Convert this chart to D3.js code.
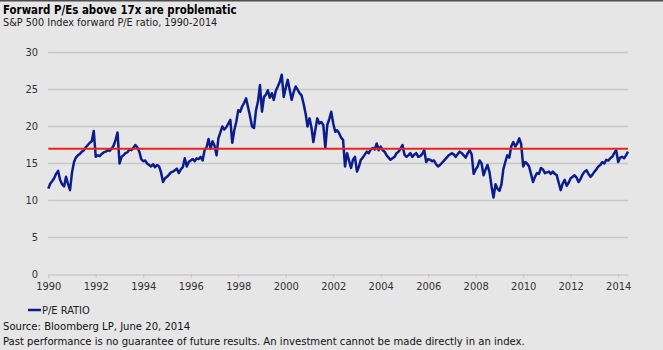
<!DOCTYPE html>
<html>
<head>
<meta charset="utf-8">
<script src="https://cdn.jsdelivr.net/npm/d3@7"></script>
<style>
  body { margin: 0; background: #e6e6e6; }
  svg { display: block; font-family: "DejaVu Sans Condensed", "DejaVu Sans", sans-serif; }
</style>
</head>
<body>
<div id="chart"></div>
<script>
// monthly forward P/E of the S&P 500, Jan 1990 - Jun 2014
const startYear = 1990;
const peRatio = [
  11.6, 12.3, 12.6, 13.0, 13.6, 14.0, 12.8, 12.2, 11.9, 13.2, 12.2, 11.4, // 1990
  13.8, 15.2, 15.8, 16.1, 16.3, 16.6, 16.8, 17.2, 17.5, 17.8, 18.0, 19.4, // 1991
  15.9, 16.1, 16.0, 16.3, 16.5, 16.6, 16.8, 16.7, 17.0, 17.4, 18.2, 19.2, // 1992
  15.0, 15.9, 16.1, 16.4, 16.5, 16.9, 16.8, 17.1, 17.5, 17.2, 16.6, 15.6, // 1993
  15.3, 15.4, 15.0, 14.8, 14.6, 14.9, 14.5, 14.8, 14.6, 13.8, 12.5, 13.0, // 1994
  13.2, 13.5, 13.8, 13.9, 14.1, 14.3, 13.7, 14.2, 14.5, 15.7, 14.6, 15.2, // 1995
  15.4, 15.6, 15.3, 15.7, 15.6, 15.9, 15.4, 16.8, 17.2, 18.3, 17.0, 18.0, // 1996
  17.4, 16.1, 18.4, 19.2, 20.0, 19.6, 19.9, 20.4, 20.9, 17.8, 19.5, 20.6, // 1997
  22.2, 22.0, 22.7, 23.2, 23.8, 22.6, 21.4, 20.0, 19.8, 22.2, 23.4, 25.6, // 1998
  22.0, 24.0, 24.3, 24.9, 23.9, 24.5, 23.6, 24.8, 25.4, 26.0, 27.0, 24.0, // 1999
  25.2, 26.3, 25.0, 23.6, 24.6, 25.4, 25.0, 24.5, 24.2, 23.1, 21.8, 20.0, // 2000
  21.1, 19.8, 17.9, 19.6, 21.1, 20.4, 20.6, 20.2, 17.1, 20.2, 21.0, 22.0, // 2001
  20.4, 19.3, 19.5, 19.1, 18.5, 18.2, 14.6, 16.4, 15.4, 14.4, 15.5, 15.9, // 2002
  13.9, 14.6, 15.5, 15.8, 16.2, 16.6, 16.4, 16.9, 17.1, 16.9, 17.7, 16.8, // 2003
  17.3, 16.8, 16.6, 16.1, 15.8, 15.5, 15.7, 15.9, 16.4, 16.6, 17.0, 17.5, // 2004
  16.2, 15.9, 16.1, 16.4, 15.9, 16.2, 16.4, 15.9, 16.0, 16.3, 16.8, 15.2, // 2005
  15.6, 15.5, 15.3, 15.4, 14.9, 14.6, 14.8, 15.1, 15.4, 15.7, 16.0, 16.2, // 2006
  16.4, 16.2, 15.9, 16.3, 16.6, 16.4, 16.1, 15.8, 16.4, 16.8, 16.2, 13.6, // 2007
  14.2, 14.6, 15.4, 15.0, 13.4, 14.2, 14.8, 13.8, 11.9, 10.4, 12.2, 11.6, // 2008
  11.3, 12.2, 14.2, 15.2, 16.1, 15.8, 17.3, 17.9, 17.3, 17.7, 18.4, 17.6, // 2009
  14.6, 15.2, 15.0, 14.6, 13.6, 12.5, 13.2, 13.7, 13.6, 14.4, 14.2, 13.7, // 2010
  13.8, 13.9, 13.6, 13.9, 13.6, 13.4, 12.4, 11.4, 12.3, 12.8, 12.0, 12.4, // 2011
  13.0, 13.2, 13.4, 13.1, 12.5, 12.9, 13.5, 13.9, 14.1, 13.6, 13.2, 13.5, // 2012
  13.9, 14.2, 14.6, 14.8, 15.2, 15.0, 15.5, 15.4, 15.7, 15.9, 16.4, 16.8, // 2013
  15.2, 15.8, 15.9, 15.7, 16.1, 16.6                                      // 2014
];
const threshold = 17;
const yTicks = [0, 5, 10, 15, 20, 25, 30];
const xTickYears = [1990, 1992, 1994, 1996, 1998, 2000, 2002, 2004, 2006, 2008, 2010, 2012, 2014];

const width = 663, height = 350;
const data = peRatio.map((v, i) => ({ date: new Date(startYear, i, 1), value: v }));

const svg = d3.select("#chart").append("svg")
    .attr("width", width)
    .attr("height", height);

svg.append("rect").attr("width", width).attr("height", height).attr("fill", "#e6e6e6");
svg.append("rect").attr("width", width).attr("height", 1.5).attr("fill", "#4d4d4d");

const x = d3.scaleTime()
    .domain([new Date(1990, 0, 1), new Date(2014, 5, 1)])
    .range([48.3, 628]);

const y = d3.scaleLinear()
    .domain([0, 30])
    .range([274.5, 52.5]);

// gridlines
svg.append("g")
    .selectAll("line")
    .data(yTicks.filter(d => d > 0))
    .enter().append("line")
    .attr("x1", x.range()[0])
    .attr("x2", x.range()[1])
    .attr("y1", d => y(d))
    .attr("y2", d => y(d))
    .attr("stroke", "#c8c8c8")
    .attr("stroke-width", 1.5);

// y labels
svg.append("g")
    .selectAll("text")
    .data(yTicks)
    .enter().append("text")
    .attr("x", 38)
    .attr("y", d => y(d))
    .attr("dy", "0.35em")
    .attr("text-anchor", "end")
    .attr("font-size", 11)
    .attr("fill", "#333")
    .text(d => d);

// x axis
const xAxis = svg.append("g")
    .attr("transform", `translate(0,${y(0)})`)
    .call(d3.axisBottom(x)
        .tickValues(xTickYears.map(yr => new Date(yr, 0, 1)))
        .tickFormat(d3.timeFormat("%Y"))
        .tickSize(3)
        .tickSizeOuter(0)
        .tickPadding(5));
xAxis.select(".domain").attr("stroke", "#bdbdbd");
xAxis.selectAll(".tick line").attr("stroke", "#bdbdbd");
xAxis.selectAll(".tick text")
    .attr("font-size", 11)
    .attr("font-family", "DejaVu Sans Condensed, DejaVu Sans, sans-serif")
    .attr("fill", "#333");

// P/E line
svg.append("path")
    .datum(data)
    .attr("fill", "none")
    .attr("stroke", "#0b1d8c")
    .attr("stroke-width", 2.5)
    .attr("stroke-linejoin", "round")
    .attr("d", d3.line().x(d => x(d.date)).y(d => y(d.value)));

// 17x threshold
svg.append("line")
    .attr("x1", x.range()[0])
    .attr("x2", x.range()[1])
    .attr("y1", y(threshold))
    .attr("y2", y(threshold))
    .attr("stroke", "#e8241f")
    .attr("stroke-width", 2);

// titles
svg.append("text")
    .attr("x", 3).attr("y", 14)
    .attr("font-size", 11.4)
    .attr("font-weight", "bold")
    .attr("fill", "#000")
    .text("Forward P/Es above 17x are problematic");

svg.append("text")
    .attr("x", 3).attr("y", 26)
    .attr("font-size", 10.8)
    .attr("fill", "#222")
    .text("S&P 500 Index forward P/E ratio, 1990-2014");

// legend
svg.append("line")
    .attr("x1", 28).attr("x2", 41)
    .attr("y1", 310).attr("y2", 310)
    .attr("stroke", "#0b1d8c")
    .attr("stroke-width", 2.5);

svg.append("text")
    .attr("x", 42).attr("y", 314)
    .attr("font-size", 11)
    .attr("fill", "#222")
    .text("P/E RATIO");

// footer
svg.append("text")
    .attr("x", 3).attr("y", 330)
    .attr("font-size", 11.2)
    .attr("fill", "#111")
    .text("Source: Bloomberg LP, June 20, 2014");

svg.append("text")
    .attr("x", 3).attr("y", 345)
    .attr("font-size", 11.2)
    .attr("fill", "#111")
    .text("Past performance is no guarantee of future results. An investment cannot be made directly in an index.");
</script>
</body>
</html>
